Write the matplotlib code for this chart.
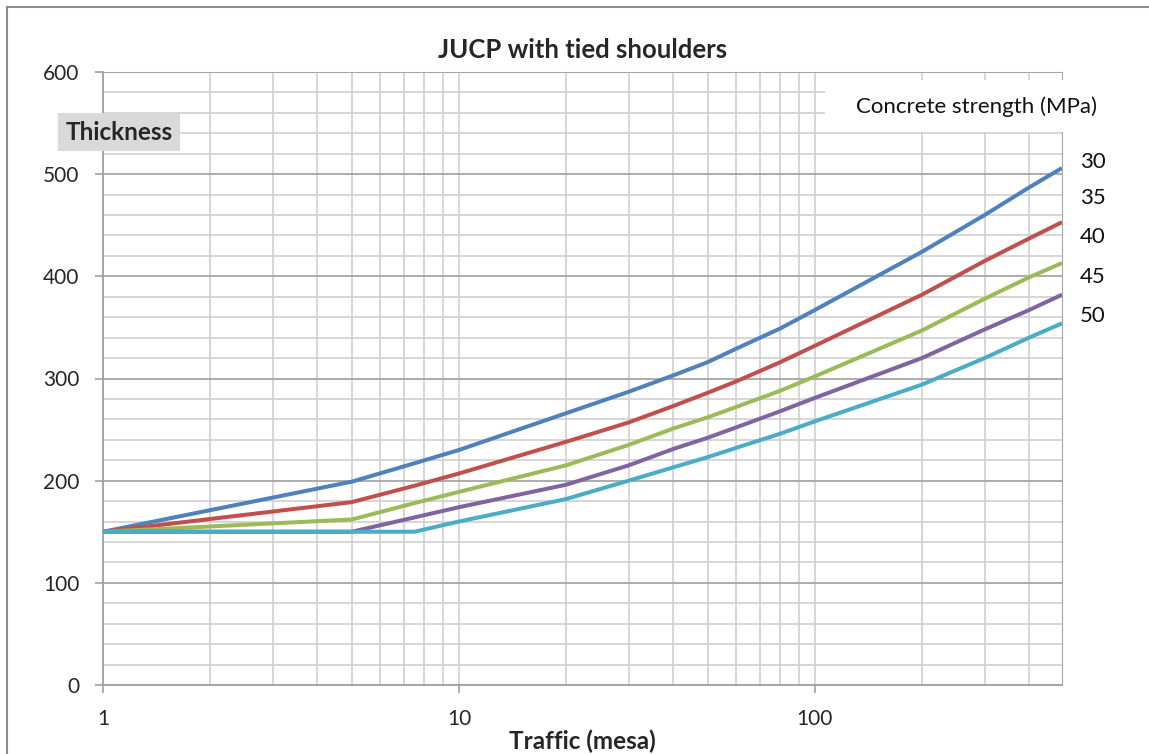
import matplotlib
matplotlib.use("Agg")
import matplotlib.pyplot as plt
from matplotlib.patches import Rectangle
from matplotlib.ticker import FixedLocator, NullFormatter

plt.rcParams['font.family'] = ['Lato', 'DejaVu Sans']

# traffic (mesa) and thickness
traffic = [1, 5, 7.5, 10, 20, 30, 40, 50, 60, 80, 100, 200, 300, 400, 495]
mpa30 = [150, 199, 217, 230, 266, 287, 303, 316, 329, 349, 367, 424, 460, 487, 506]
mpa35 = [150, 179, 195, 207, 238, 257, 273, 286, 297, 316, 332, 382, 415, 437, 453]
mpa40 = [150, 162, 178, 189, 215, 235, 251, 262, 272, 288, 302, 347, 378, 399, 413]
mpa45 = [150, 150, 164, 174, 196, 215, 231, 242, 252, 268, 281, 320, 348, 367, 382]
mpa50 = [150, 150, 150, 160, 182, 200, 213, 223, 232, 246, 258, 294, 320, 340, 354]
strengths = ['30', '35', '40', '45', '50']
colours = ['#4F81BD', '#C0504D', '#9BBB59', '#8064A2', '#4BACC6']

W, H = 1149, 754
fig = plt.figure(figsize=(W / 100, H / 100), dpi=100)
ax = fig.add_axes([103 / W, 1 - 685 / H, (1062 - 103) / W, (685 - 72) / H])

for ys, c in zip([mpa30, mpa35, mpa40, mpa45, mpa50], colours):
    ax.plot(traffic, ys, color=c, lw=2.9, zorder=3, solid_capstyle='butt')

ax.set_xscale('log')
ax.set_xlim(1, 495)
ax.set_ylim(0, 600)

# grid
ax.xaxis.set_major_locator(FixedLocator([1, 10, 100]))
ax.xaxis.set_minor_locator(FixedLocator([2, 3, 4, 5, 6, 7, 8, 9, 20, 30, 40, 50, 60, 70, 80, 90,
                                         200, 300, 400]))
ax.xaxis.set_minor_formatter(NullFormatter())
ax.set_xticklabels(['1', '10', '100'])
ax.set_yticks(range(0, 601, 100))
ax.set_yticks(range(0, 601, 20), minor=True)
ax.grid(which='major', axis='y', color='#a6a6a6', lw=1.3)
ax.grid(which='minor', axis='y', color='#d0d0d0', lw=1.2)
ax.grid(which='both', axis='x', color='#d0d0d0', lw=1.2)
ax.set_axisbelow(True)

ax.tick_params(axis='both', which='major', direction='out', length=6, width=1.2,
               color='#a0a0a0', labelsize=15, labelcolor='#262626')
ax.tick_params(axis='both', which='minor', length=0)
ax.tick_params(axis='x', pad=11)
ax.tick_params(axis='y', pad=11)
for s in ['left', 'bottom']:
    ax.spines[s].set_color('#a0a0a0')
    ax.spines[s].set_linewidth(1.3)
ax.spines['top'].set_color('#a6a6a6')
ax.spines['right'].set_color('#a6a6a6')

ax.set_title('JUCP with tied shoulders', fontsize=18.5, fontweight='bold', color='#262626', pad=10)
ax.set_xlabel('Traffic (mesa)', fontsize=17.5, fontweight='bold', color='#262626', labelpad=1)

# "Thickness" box
fig.add_artist(Rectangle((58 / W, 1 - 151 / H), 122 / W, 38 / H, transform=fig.transFigure,
                         facecolor='#d9d9d9', edgecolor='none', zorder=5))
fig.text(119 / W, 1 - 133 / H, 'Thickness', fontsize=17.5, fontweight='bold', color='#262626',
         ha='center', va='center', zorder=6)

# legend header box and labels
fig.add_artist(Rectangle((825 / W, 1 - 132 / H), 324 / W, 52 / H, transform=fig.transFigure,
                         facecolor='white', edgecolor='none', zorder=5))
fig.text(977 / W, 1 - 107 / H, 'Concrete strength (MPa)', fontsize=16, color='#111111',
         ha='center', va='center', zorder=6)
label_y = [162, 198, 237, 277, 316]
for s, y in zip(strengths, label_y):
    fig.text(1093 / W, 1 - y / H, s, fontsize=16, color='#111111', ha='center', va='center')

# outer frame
fig.add_artist(plt.Line2D([7 / W, 7 / W], [0, 1 - 7 / H], transform=fig.transFigure,
                          color='#8c8c8c', lw=1.5))
fig.add_artist(plt.Line2D([7 / W, 1], [1 - 7 / H, 1 - 7 / H], transform=fig.transFigure,
                          color='#8c8c8c', lw=1.5))

fig.savefig('out.png', dpi=100)
